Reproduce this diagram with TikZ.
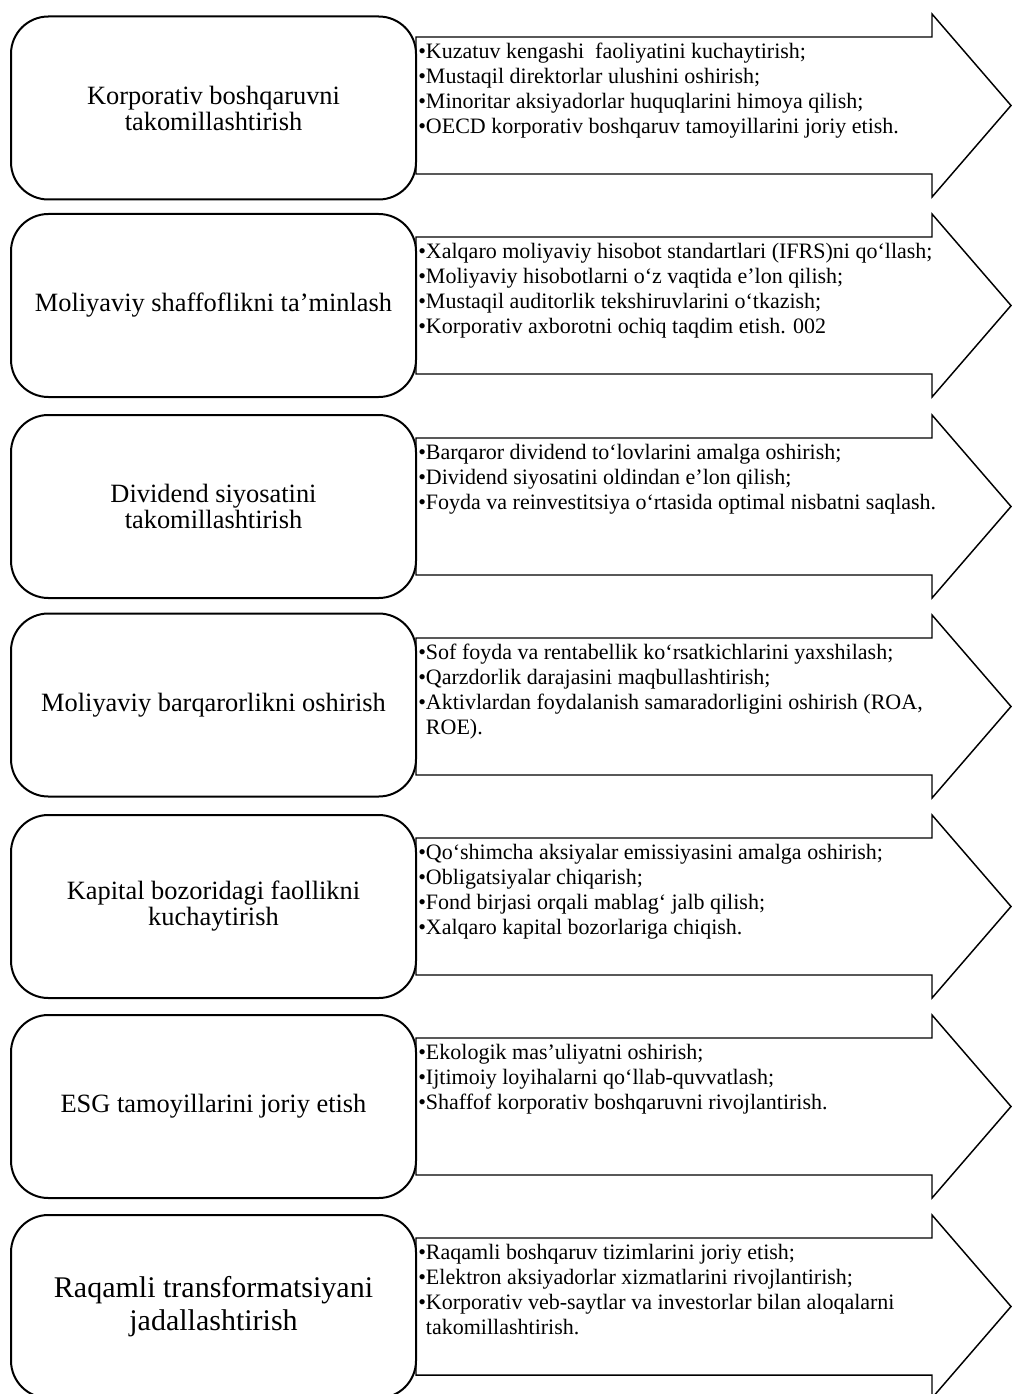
\documentclass[tikz,border=0pt]{standalone}
\usepackage{fontspec}
\setmainfont{Liberation Serif}
\newcommand\arrowat[1]{%
  \draw[arr] (416,#1+23) -- (932,#1+23) -- (932,#1) -- (1011,#1+91.5)
    -- (932,#1+183) -- (932,#1+160) -- (416,#1+160) -- cycle;}
\begin{document}
\begin{tikzpicture}[x=0.75pt,y=-0.75pt,
  lbox/.style={draw, line width=1.5pt, rounded corners=28pt, fill=white,
    minimum width=303.75pt, minimum height=137.25pt, align=center,
    inner sep=0pt, font=\fontsize{19.8}{19.5}\selectfont},
  bigtext/.style={font=\fontsize{22.5}{24.75}\selectfont},
  arr/.style={draw, line width=1.1pt, fill=white, line join=miter},
  items/.style={anchor=north west, align=left, inner sep=0pt,
    font=\fontsize{16.5}{18.75}\selectfont}]
\useasboundingbox (0,0) rectangle (1012,1394);

% Row 1
\arrowat{14}
\node[lbox] (b1) at (213.5,108) {Korporativ boshqaruvni\\takomillashtirish};
\node[items] (t1) at (418,40.5) {\strut•Kuzatuv kengashi\ \ faoliyatini kuchaytirish;\\
•Mustaqil direktorlar ulushini oshirish;\\
•Minoritar aksiyadorlar huquqlarini himoya qilish;\\
•OECD korporativ boshqaruv tamoyillarini joriy etish.};

% Row 2
\arrowat{214}
\node[lbox] (b2) at (213.5,305.5) {Moliyaviy shaffoflikni ta’minlash};
\node[items] (t2) at (418,240.5) {\strut•Xalqaro moliyaviy hisobot standartlari (IFRS)ni qo‘llash;\\
•Moliyaviy hisobotlarni o‘z vaqtida e’lon qilish;\\
•Mustaqil auditorlik tekshiruvlarini o‘tkazish;\\
•Korporativ axborotni ochiq taqdim etish. 002};

% Row 3
\arrowat{415}
\node[lbox] (b3) at (213.5,506.5) {Dividend siyosatini\\takomillashtirish};
\node[items] (t3) at (418,441.5) {\strut•Barqaror dividend\ to‘lovlarini amalga\ oshirish;\\
•Dividend\ siyosatini oldindan e’lon qilish;\\
•Foyda va reinvestitsiya\ o‘rtasida optimal nisbatni\ saqlash.};

% Row 4
\arrowat{615}
\node[lbox] (b4) at (213.5,705) {Moliyaviy barqarorlikni oshirish};
\node[items] (t4) at (418,641.5) {\strut•Sof foyda va rentabellik ko‘rsatkichlarini yaxshilash;\\
•Qarzdorlik darajasini\ maqbullashtirish;\\
•Aktivlardan\ foydalanish samaradorligini oshirish (ROA,\\
\hphantom{•}ROE).};

% Row 5
\arrowat{815}
\node[lbox] (b5) at (213.5,906.5) {Kapital bozoridagi faollikni\\kuchaytirish};
\node[items] (t5) at (418,841.5) {\strut•Qo‘shimcha aksiyalar\ emissiyasini\ amalga oshirish;\\
•Obligatsiyalar\ chiqarish;\\
•Fond birjasi orqali mablag‘\ jalb qilish;\\
•Xalqaro kapital bozorlariga chiqish.};

% Row 6
\arrowat{1015}
\node[lbox] (b6) at (213.5,1106.5) {ESG tamoyillarini\ joriy etish};
\node[items] (t6) at (418,1041.5) {\strut•Ekologik mas’uliyatni\ oshirish;\\
•Ijtimoiy loyihalarni\ qo‘llab-quvvatlash;\\
•Shaffof korporativ boshqaruvni rivojlantirish.};

% Row 7
\arrowat{1215}
\node[lbox,bigtext] (b7) at (213.5,1306.5) {Raqamli\ transformatsiyani\\jadallashtirish};
\node[items] (t7) at (418,1241.5) {\strut•Raqamli boshqaruv tizimlarini joriy etish;\\
•Elektron aksiyadorlar xizmatlarini rivojlantirish;\\
•Korporativ veb-saytlar va investorlar bilan aloqalarni\\
\hphantom{•}takomillashtirish.};
\end{tikzpicture}
\end{document}
